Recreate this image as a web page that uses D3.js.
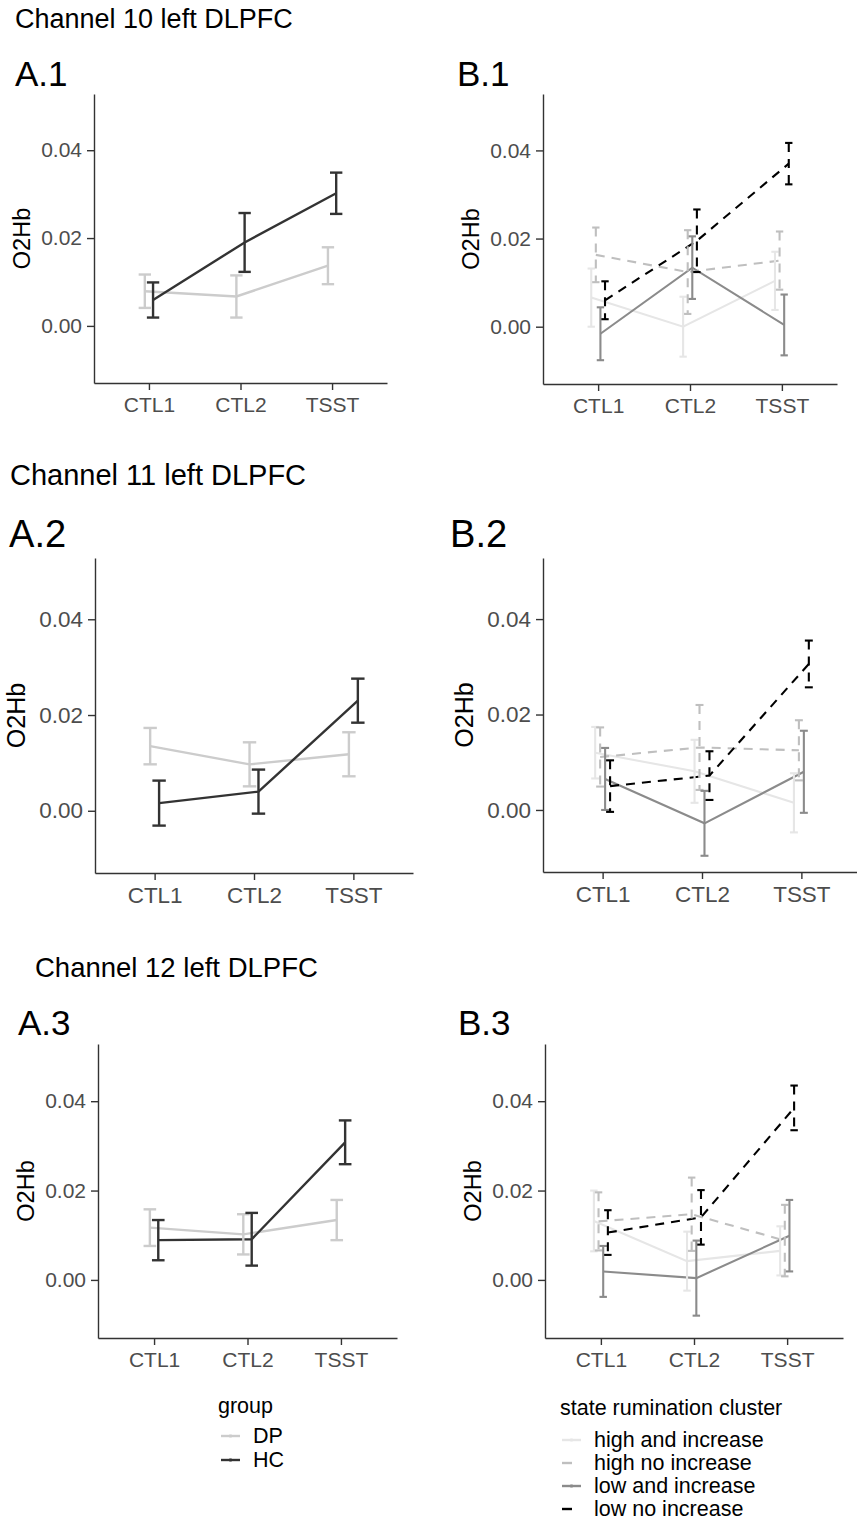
<!DOCTYPE html>
<html>
<head>
<meta charset="utf-8">
<script src="https://cdn.jsdelivr.net/npm/d3@7"></script>
<style>
  html, body { margin: 0; padding: 0; background: #fff; }
  svg { display: block; font-family: "Liberation Sans", Arial, sans-serif; }
</style>
</head>
<body>
<svg id="chart" width="857" height="1522"></svg>
<script>
// ---- data ----
const timepoints = ["CTL1", "CTL2", "TSST"];
const groupNames = ["DP", "HC"];
const clusterNames = ["high and increase", "high no increase", "low and increase", "low no increase"];
const channelTitles = ["Channel 10 left DLPFC", "Channel 11 left DLPFC", "Channel 12 left DLPFC"];
const yTicks = [0, 0.02, 0.04];

// group panels: rows = DP, HC ; mean and standard error per time point
const a1Mean = [[0.0079, 0.0067, 0.0137], [0.0059, 0.0190, 0.0302]];
const a1Se   = [[0.0038, 0.0048, 0.0042], [0.0040, 0.0067, 0.0047]];
const a2Mean = [[0.0135, 0.0097, 0.0118], [0.0016, 0.0040, 0.0230]];
const a2Se   = [[0.0038, 0.0046, 0.0046], [0.0047, 0.0046, 0.0046]];
const a3Mean = [[0.0117, 0.0102, 0.0134], [0.0089, 0.0091, 0.0308]];
const a3Se   = [[0.0041, 0.0045, 0.0045], [0.0045, 0.0059, 0.0049]];

// cluster panels: rows = high and increase, high no increase, low and increase, low no increase
const b1Mean = [[0.0066, 0.0000, 0.0104], [0.0163, 0.0124, 0.0150], [-0.0016, 0.0134, 0.0004], [0.0060, 0.0195, 0.0370]];
const b1Se   = [[0.0066, 0.0068, 0.0066], [0.0062, 0.0095, 0.0066], [0.0060, 0.0071, 0.0069], [0.0043, 0.0071, 0.0047]];
const b2Mean = [[0.0120, 0.0081, 0.0015], [0.0111, 0.0131, 0.0125], [0.0065, -0.0028, 0.0080], [0.0050, 0.0072, 0.0306]];
const b2Se   = [[0.0054, 0.0066, 0.0062], [0.0062, 0.0089, 0.0063], [0.0065, 0.0068, 0.0086], [0.0054, 0.0051, 0.0049]];
const b3Mean = [[0.0132, 0.0042, 0.0065], [0.0131, 0.0147, 0.0088], [0.0019, 0.0004, 0.0099], [0.0106, 0.0140, 0.0385]];
const b3Se   = [[0.0068, 0.0066, 0.0055], [0.0065, 0.0082, 0.0080], [0.0057, 0.0084, 0.0080], [0.0050, 0.0061, 0.0050]];

// ---- styles ----
const groupStyle = [
  { color: "#cccccc", dash: null },
  { color: "#333333", dash: null }
];
const clusterStyle = [
  { color: "#e6e6e6", dash: null },
  { color: "#bfbfbf", dash: "9,7" },
  { color: "#8b8b8b", dash: null },
  { color: "#000000", dash: "9,7" }
];

const svg = d3.select("#chart");
const yDomain = [-0.013, 0.0528];

// panel boxes (plot area) and font scale per row
const panels = [
  { label: "A.1", lx: 15,  ly: 86,   box: [94, 94, 387, 383],     fs: 1.0,  mean: a1Mean, se: a1Se, kind: "A" },
  { label: "B.1", lx: 457, ly: 86,   box: [543, 94, 837, 384],    fs: 1.0,  mean: b1Mean, se: b1Se, kind: "B" },
  { label: "A.2", lx: 9,   ly: 547,  box: [95, 558, 413, 873],    fs: 1.07, mean: a2Mean, se: a2Se, kind: "A" },
  { label: "B.2", lx: 450, ly: 547,  box: [543, 558, 861, 872],   fs: 1.07, mean: b2Mean, se: b2Se, kind: "B" },
  { label: "A.3", lx: 18,  ly: 1035, box: [98, 1044, 397, 1338],  fs: 1.0,  mean: a3Mean, se: a3Se, kind: "A" },
  { label: "B.3", lx: 458, ly: 1035, box: [545, 1044, 843, 1338], fs: 1.0,  mean: b3Mean, se: b3Se, kind: "B" }
];

const titlePos = [[15, 28, 27], [10, 485, 29], [35, 977, 27.5]];
svg.selectAll("text.channel")
  .data(channelTitles)
  .join("text")
  .attr("class", "channel")
  .attr("x", (d, i) => titlePos[i][0])
  .attr("y", (d, i) => titlePos[i][1])
  .attr("font-size", (d, i) => titlePos[i][2])
  .attr("fill", "#000")
  .text(d => d);

panels.forEach(p => {
  const [x0, y0, x1, y1] = p.box;
  const x = d3.scaleLinear().domain([0.4, 3.6]).range([x0, x1]);
  const y = d3.scaleLinear().domain(yDomain).range([y1, y0]);
  const isA = p.kind === "A";
  const styles = isA ? groupStyle : clusterStyle;
  const n = p.mean.length;
  const dodge = isA ? 0.18 : 0.2;
  const capW = isA ? 0.135 : 0.08;
  const lw = isA ? 2.4 : 2.1;
  const off = k => (k - (n - 1) / 2) * dodge / n;

  svg.append("text")
    .attr("x", p.lx).attr("y", p.ly)
    .attr("font-size", 34 * (p.fs > 1 ? 1.12 : 1.03))
    .text(p.label);

  // axes
  const gy = svg.append("g")
    .attr("transform", `translate(${x0},0)`)
    .call(d3.axisLeft(y).tickValues(yTicks).tickFormat(d3.format(".2f")).tickSize(7).tickSizeOuter(0).tickPadding(5));
  const gx = svg.append("g")
    .attr("transform", `translate(0,${y1})`)
    .call(d3.axisBottom(x).tickValues([1, 2, 3]).tickFormat(d => timepoints[d - 1]).tickSize(7).tickSizeOuter(0).tickPadding(7));
  [gx, gy].forEach(g => {
    g.select(".domain").attr("stroke", "#333").attr("stroke-width", 1.4);
    g.selectAll(".tick line").attr("stroke", "#333").attr("stroke-width", 1.4);
    g.selectAll(".tick text")
      .attr("fill", "#4d4d4d")
      .attr("font-size", 21 * p.fs)
      .attr("font-family", "Liberation Sans, Arial, sans-serif");
  });

  svg.append("text")
    .attr("transform", `translate(${x0 - (p.fs > 1 ? 70 : 64)},${(y0 + y1) / 2}) rotate(-90)`)
    .attr("text-anchor", "middle")
    .attr("font-size", 23.5 * p.fs)
    .text("O2Hb");

  const line = d3.line()
    .x(d => x(d.t + d.o))
    .y(d => y(d.m));

  // lines
  p.mean.forEach((row, k) => {
    const pts = row.map((m, i) => ({ t: i + 1, o: off(k), m }));
    svg.append("path")
      .datum(pts)
      .attr("d", line)
      .attr("fill", "none")
      .attr("stroke", styles[k].color)
      .attr("stroke-width", lw)
      .attr("stroke-dasharray", styles[k].dash);
  });

  // error bars: top cap, stem, bottom cap drawn separately
  p.mean.forEach((row, k) => {
    row.forEach((m, i) => {
      const cx = i + 1 + off(k);
      const hi = m + p.se[k][i], lo = m - p.se[k][i];
      const segs = [
        [cx - capW / 2, hi, cx + capW / 2, hi],
        [cx, hi, cx, lo],
        [cx - capW / 2, lo, cx + capW / 2, lo]
      ];
      svg.append("g").selectAll("line")
        .data(segs)
        .join("line")
        .attr("x1", s => x(s[0])).attr("y1", s => y(s[1]))
        .attr("x2", s => x(s[2])).attr("y2", s => y(s[3]))
        .attr("stroke", styles[k].color)
        .attr("stroke-width", lw)
        .attr("stroke-dasharray", styles[k].dash);
    });
  });
});

// ---- legends ----
function legend(title, names, styles, tx, ty, itemX, firstY, step, keyX, lw) {
  const g = svg.append("g");
  g.append("text").attr("x", tx).attr("y", ty).attr("font-size", 21.5).text(title);
  names.forEach((name, k) => {
    const by = firstY + k * step;
    const ky = by - 7;
    g.append("line")
      .attr("x1", keyX).attr("x2", keyX + 19)
      .attr("y1", ky).attr("y2", ky)
      .attr("stroke", styles[k].color)
      .attr("stroke-width", lw)
      .attr("stroke-dasharray", styles[k].dash ? "10,10" : null);
    if (!styles[k].dash) {
      g.append("line")
        .attr("x1", keyX + 9.5).attr("x2", keyX + 9.5)
        .attr("y1", ky - 1.5).attr("y2", ky + 1.5)
        .attr("stroke", styles[k].color)
        .attr("stroke-width", lw);
    }
    g.append("text").attr("x", itemX).attr("y", by).attr("font-size", 21.5).text(name);
  });
}
legend("group", groupNames, groupStyle, 218, 1413, 253, 1443, 24, 221, 2.4);
legend("state rumination cluster", clusterNames, clusterStyle, 560, 1415, 594, 1447, 23, 562, 2.4);
</script>
</body>
</html>
